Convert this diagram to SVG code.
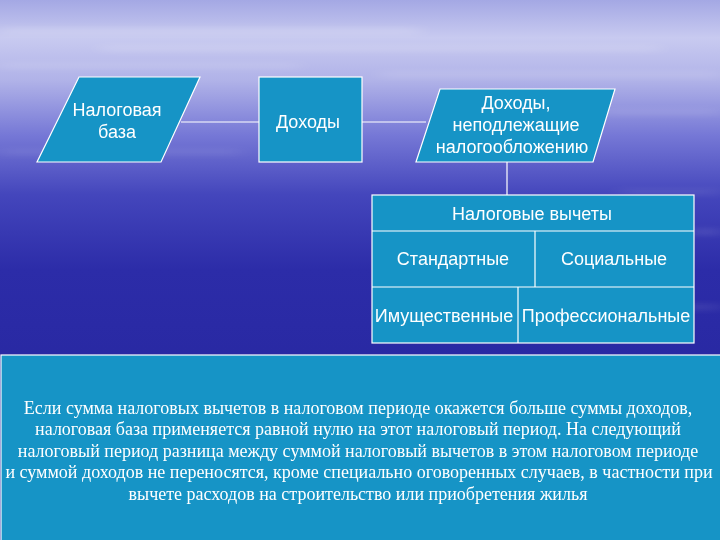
<svg xmlns="http://www.w3.org/2000/svg" width="720" height="540" viewBox="0 0 720 540">
  <defs>
    <linearGradient id="bg" x1="0" y1="0" x2="0" y2="1">
      <stop offset="0" stop-color="#a4a8e4"/>
      <stop offset="0.07" stop-color="#c8caf0"/>
      <stop offset="0.15" stop-color="#b0b2e8"/>
      <stop offset="0.25" stop-color="#7678d6"/>
      <stop offset="0.36" stop-color="#4446bc"/>
      <stop offset="0.5" stop-color="#2c2ca8"/>
      <stop offset="0.7" stop-color="#2828a2"/>
      <stop offset="1" stop-color="#2828a2"/>
    </linearGradient>
    <filter id="blur" x="-20%" y="-300%" width="140%" height="700%">
      <feGaussianBlur stdDeviation="10 3"/>
    </filter>
    <style>
      .shape { fill: #1694c6; stroke: #ffffff; stroke-width: 1.2; }
      .conn { stroke: #ffffff; stroke-width: 1.2; fill: none; }
      .sans { font-family: "Liberation Sans", Arial, sans-serif; font-size: 18px; fill: #ffffff; text-anchor: middle; }
      .serif { font-family: "Liberation Serif", "Times New Roman", serif; font-size: 18px; fill: #ffffff; text-anchor: middle; }
    </style>
  </defs>

  <g id="background">
    <rect x="0" y="0" width="720" height="540" fill="url(#bg)"/>
    <g filter="url(#blur)" fill="#ffffff">
      <rect x="0" y="28" width="420" height="6" opacity="0.2"/>
      <rect x="100" y="46" width="560" height="5" opacity="0.18"/>
      <rect x="0" y="64" width="300" height="4" opacity="0.18"/>
      <rect x="380" y="72" width="340" height="5" opacity="0.15"/>
      <rect x="600" y="110" width="120" height="4" opacity="0.15"/>
      <rect x="0" y="150" width="240" height="4" opacity="0.12"/>
      <rect x="620" y="190" width="100" height="4" opacity="0.12"/>
      <rect x="690" y="230" width="30" height="4" opacity="0.18"/>
      <rect x="680" y="305" width="40" height="4" opacity="0.15"/>
    </g>
  </g>

  <g id="connectors">
    <line class="conn" x1="181" y1="122" x2="259" y2="122"/>
    <line class="conn" x1="362" y1="122" x2="426" y2="122"/>
    <line class="conn" x1="507" y1="162" x2="507" y2="195"/>
  </g>

  <g id="node-nalogovaya-baza">
    <polygon class="shape" points="79,77 200,77 161,162 37,162"/>
    <text class="sans" x="117" y="116">Налоговая</text>
    <text class="sans" x="117" y="138">база</text>
  </g>

  <g id="node-dohody">
    <rect class="shape" x="259" y="77" width="103" height="85"/>
    <text class="sans" x="308" y="128">Доходы</text>
  </g>

  <g id="node-dohody-nepodl">
    <polygon class="shape" points="440,89 615,89 593,162 416,162"/>
    <text class="sans" x="516" y="109">Доходы,</text>
    <text class="sans" x="516" y="131">неподлежащие</text>
    <text class="sans" x="512" y="153">налогообложению</text>
  </g>

  <g id="node-vychety">
    <rect class="shape" x="372" y="195" width="322" height="148"/>
    <line class="conn" x1="372" y1="231" x2="694" y2="231"/>
    <line class="conn" x1="372" y1="287" x2="694" y2="287"/>
    <line class="conn" x1="535" y1="231" x2="535" y2="287"/>
    <line class="conn" x1="518" y1="287" x2="518" y2="343"/>
    <text class="sans" x="532" y="220">Налоговые вычеты</text>
    <text class="sans" x="453" y="265">Стандартные</text>
    <text class="sans" x="614" y="265">Социальные</text>
    <text class="sans" x="444" y="322">Имущественные</text>
    <text class="sans" x="606" y="322">Профессиональные</text>
  </g>

  <g id="node-note">
    <rect class="shape" x="1" y="355" width="720" height="190"/>
    <text class="serif" x="358" y="414">Если сумма налоговых вычетов в налоговом периоде окажется больше суммы доходов,</text>
    <text class="serif" x="358" y="435">налоговая база применяется равной нулю на этот налоговый период. На следующий</text>
    <text class="serif" x="358" y="457">налоговый период разница между суммой налоговый вычетов в этом налоговом периоде</text>
    <text class="serif" x="359" y="478">и суммой доходов не переносятся, кроме специально оговоренных случаев, в частности при</text>
    <text class="serif" x="358" y="500">вычете расходов на строительство или приобретения жилья</text>
  </g>
</svg>
